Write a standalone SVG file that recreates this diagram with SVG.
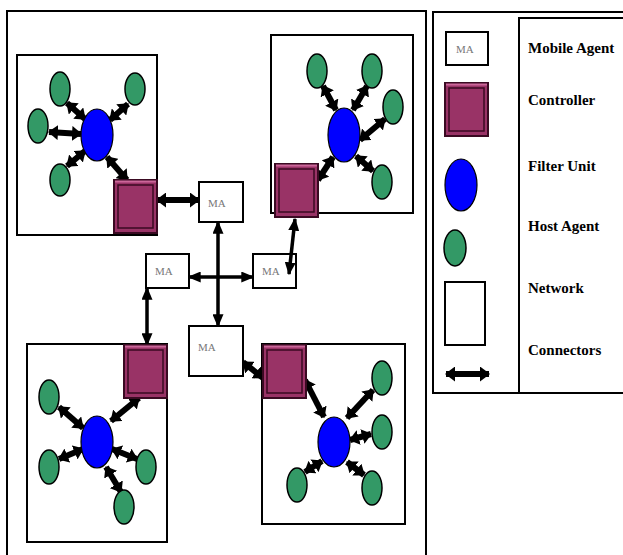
<svg xmlns="http://www.w3.org/2000/svg" width="623" height="555" viewBox="0 0 623 555">
<style>
.frame{fill:none;stroke:#000;stroke-width:2}
.net{fill:#fff;stroke:#000;stroke-width:2}
.ma{fill:#fff;stroke:#000;stroke-width:2}
.matext{font-family:"Liberation Serif","Times New Roman",serif;font-size:11px;fill:#777}
.ctrl{fill:#993366;stroke:#3a0a22;stroke-width:2}
.ctrlin{fill:#993366;stroke:#3a0a22;stroke-width:1.5}
.ctrlhi{stroke:#cc6699;stroke-width:2}
.fu{fill:#0000ff;stroke:#000;stroke-width:1.2}
.ha{fill:#339966;stroke:#000;stroke-width:1.5}
.con{stroke:#000;stroke-width:6;fill:none;marker-start:url(#ahB);marker-end:url(#ahB)}
.conT{stroke:#000;stroke-width:3.5;fill:none;marker-start:url(#ah);marker-end:url(#ah)}
.lbl{font-family:"Liberation Serif","Times New Roman",serif;font-size:15px;font-weight:bold;fill:#000}
</style>
<defs>
<marker id="ah" viewBox="0 0 10 10" preserveAspectRatio="none" refX="9" refY="5" markerWidth="13" markerHeight="11" markerUnits="userSpaceOnUse" orient="auto-start-reverse">
<path d="M0,0 L10,5 L0,10 z" fill="#000"/>
</marker>
<marker id="ahB" viewBox="0 0 10 10" preserveAspectRatio="none" refX="9" refY="5" markerWidth="10" markerHeight="15" markerUnits="userSpaceOnUse" orient="auto-start-reverse">
<path d="M0,0 L10,5 L0,10 z" fill="#000"/>
</marker>
<g id="ctrlShape">
<rect x="0" y="0" width="43" height="53" class="ctrl"/>
<line x1="1" y1="1.5" x2="42" y2="1.5" class="ctrlhi"/>
<rect x="4" y="5" width="35" height="43" class="ctrlin"/>
</g>
</defs>
<rect width="623" height="555" fill="#fff"/>

<g id="frame">
<path d="M7,560 L7,11 L426,11 L426,560" class="frame"/>
</g>

<g id="net-tl"><rect x="17" y="55" width="140" height="180" class="net"/></g>
<g id="net-tr"><rect x="271" y="35" width="142" height="178" class="net"/></g>
<g id="net-bl"><rect x="27" y="344" width="140" height="198" class="net"/></g>
<g id="net-br"><rect x="262" y="344" width="143" height="180" class="net"/></g>

<g id="connectors">
<!-- top-left cluster -->
<line x1="67" y1="103" x2="85" y2="119" class="con"/>
<line x1="128" y1="104" x2="110" y2="120" class="con"/>
<line x1="49" y1="132" x2="81" y2="134" class="con"/>
<line x1="67" y1="166" x2="85" y2="151" class="con"/>
<line x1="107" y1="157" x2="127" y2="180" class="con"/>
<!-- top-right cluster -->
<line x1="323" y1="86" x2="336" y2="110" class="con"/>
<line x1="367" y1="86" x2="353" y2="110" class="con"/>
<line x1="385" y1="119" x2="360" y2="140" class="con"/>
<line x1="373" y1="171" x2="356" y2="156" class="con"/>
<line x1="333" y1="157" x2="318" y2="180" class="con"/>
<!-- bottom-left cluster -->
<line x1="59" y1="407" x2="83" y2="428" class="con"/>
<line x1="59" y1="459" x2="83" y2="449" class="con"/>
<line x1="137" y1="459" x2="112" y2="449" class="con"/>
<line x1="121" y1="492" x2="106" y2="467" class="con"/>
<line x1="139" y1="398" x2="111" y2="421" class="con"/>
<!-- bottom-right cluster -->
<line x1="305" y1="380" x2="324" y2="417" class="con"/>
<line x1="373" y1="390" x2="347" y2="418" class="con"/>
<line x1="371" y1="434" x2="350" y2="440" class="con"/>
<line x1="305" y1="472" x2="322" y2="461" class="con"/>
<line x1="364" y1="475" x2="347" y2="462" class="con"/>
<!-- MA links -->
<line x1="157" y1="200" x2="199" y2="200" class="con"/>
<line x1="218" y1="222" x2="218" y2="326" class="conT"/>
<line x1="189" y1="277" x2="253" y2="277" class="conT"/>
<line x1="147" y1="288" x2="147" y2="345" class="conT"/>
<line x1="243" y1="362" x2="263" y2="378" class="con"/>
</g>

<g id="fu-tl"><ellipse cx="97" cy="135" rx="16" ry="26" class="fu"/></g>
<g id="ha-tl-1"><ellipse cx="60" cy="89" rx="10" ry="17" class="ha"/></g>
<g id="ha-tl-2"><ellipse cx="135" cy="89" rx="10" ry="16" class="ha"/></g>
<g id="ha-tl-3"><ellipse cx="38" cy="126" rx="10" ry="17" class="ha"/></g>
<g id="ha-tl-4"><ellipse cx="60" cy="180" rx="10" ry="16" class="ha"/></g>
<g id="ctrl-tl"><use href="#ctrlShape" x="114" y="180"/></g>

<g id="fu-tr"><ellipse cx="344" cy="135" rx="16" ry="27" class="fu"/></g>
<g id="ha-tr-1"><ellipse cx="317" cy="71" rx="10" ry="17" class="ha"/></g>
<g id="ha-tr-2"><ellipse cx="372" cy="71" rx="10" ry="17" class="ha"/></g>
<g id="ha-tr-3"><ellipse cx="393" cy="107" rx="10" ry="17" class="ha"/></g>
<g id="ha-tr-4"><ellipse cx="382" cy="182" rx="10" ry="17" class="ha"/></g>
<g id="ctrl-tr"><use href="#ctrlShape" x="275" y="164"/></g>

<g id="fu-bl"><ellipse cx="97" cy="442" rx="16" ry="26" class="fu"/></g>
<g id="ha-bl-1"><ellipse cx="49" cy="397" rx="10" ry="17" class="ha"/></g>
<g id="ha-bl-2"><ellipse cx="49" cy="467" rx="10" ry="17" class="ha"/></g>
<g id="ha-bl-3"><ellipse cx="146" cy="467" rx="10" ry="17" class="ha"/></g>
<g id="ha-bl-4"><ellipse cx="124" cy="507" rx="10" ry="17" class="ha"/></g>
<g id="ctrl-bl"><use href="#ctrlShape" x="124" y="345"/></g>

<g id="fu-br"><ellipse cx="334" cy="442" rx="16" ry="25" class="fu"/></g>
<g id="ha-br-1"><ellipse cx="382" cy="378" rx="10" ry="17" class="ha"/></g>
<g id="ha-br-2"><ellipse cx="382" cy="432" rx="10" ry="17" class="ha"/></g>
<g id="ha-br-3"><ellipse cx="297" cy="485" rx="10" ry="17" class="ha"/></g>
<g id="ha-br-4"><ellipse cx="372" cy="488" rx="10" ry="17" class="ha"/></g>
<g id="ctrl-br"><use href="#ctrlShape" x="263" y="345"/></g>

<g id="ma-1"><rect x="199" y="182" width="44" height="40" class="ma"/><text x="208" y="207" class="matext">MA</text></g>
<g id="ma-2"><rect x="146" y="254" width="43" height="34" class="ma"/><text x="155" y="275" class="matext">MA</text></g>
<g id="ma-3"><rect x="253" y="254" width="43" height="34" class="ma"/><text x="262" y="275" class="matext">MA</text></g>
<g id="ma-4"><rect x="189" y="326" width="54" height="50" class="ma"/><text x="198" y="351" class="matext">MA</text></g>

<g id="connectors-over">
<line x1="289" y1="274" x2="295" y2="219" class="conT"/>
</g>

<g id="legend">
<rect x="433" y="12" width="200" height="381" class="frame"/>
<rect x="519" y="18" width="114" height="375" class="frame"/>
<rect x="446" y="32" width="42" height="33" class="ma"/>
<text x="456" y="53" class="matext">MA</text>
<use href="#ctrlShape" x="445" y="83"/>
<ellipse cx="461" cy="185" rx="16" ry="26" class="fu"/>
<ellipse cx="455" cy="248" rx="11" ry="18" class="ha"/>
<rect x="445" y="282" width="40" height="63" class="net"/>
<line x1="446" y1="374" x2="489" y2="374" class="con"/>
<text x="528" y="53" class="lbl">Mobile Agent</text>
<text x="528" y="105" class="lbl">Controller</text>
<text x="528" y="171" class="lbl">Filter Unit</text>
<text x="528" y="231" class="lbl">Host Agent</text>
<text x="528" y="293" class="lbl">Network</text>
<text x="528" y="355" class="lbl">Connectors</text>
</g>
</svg>
